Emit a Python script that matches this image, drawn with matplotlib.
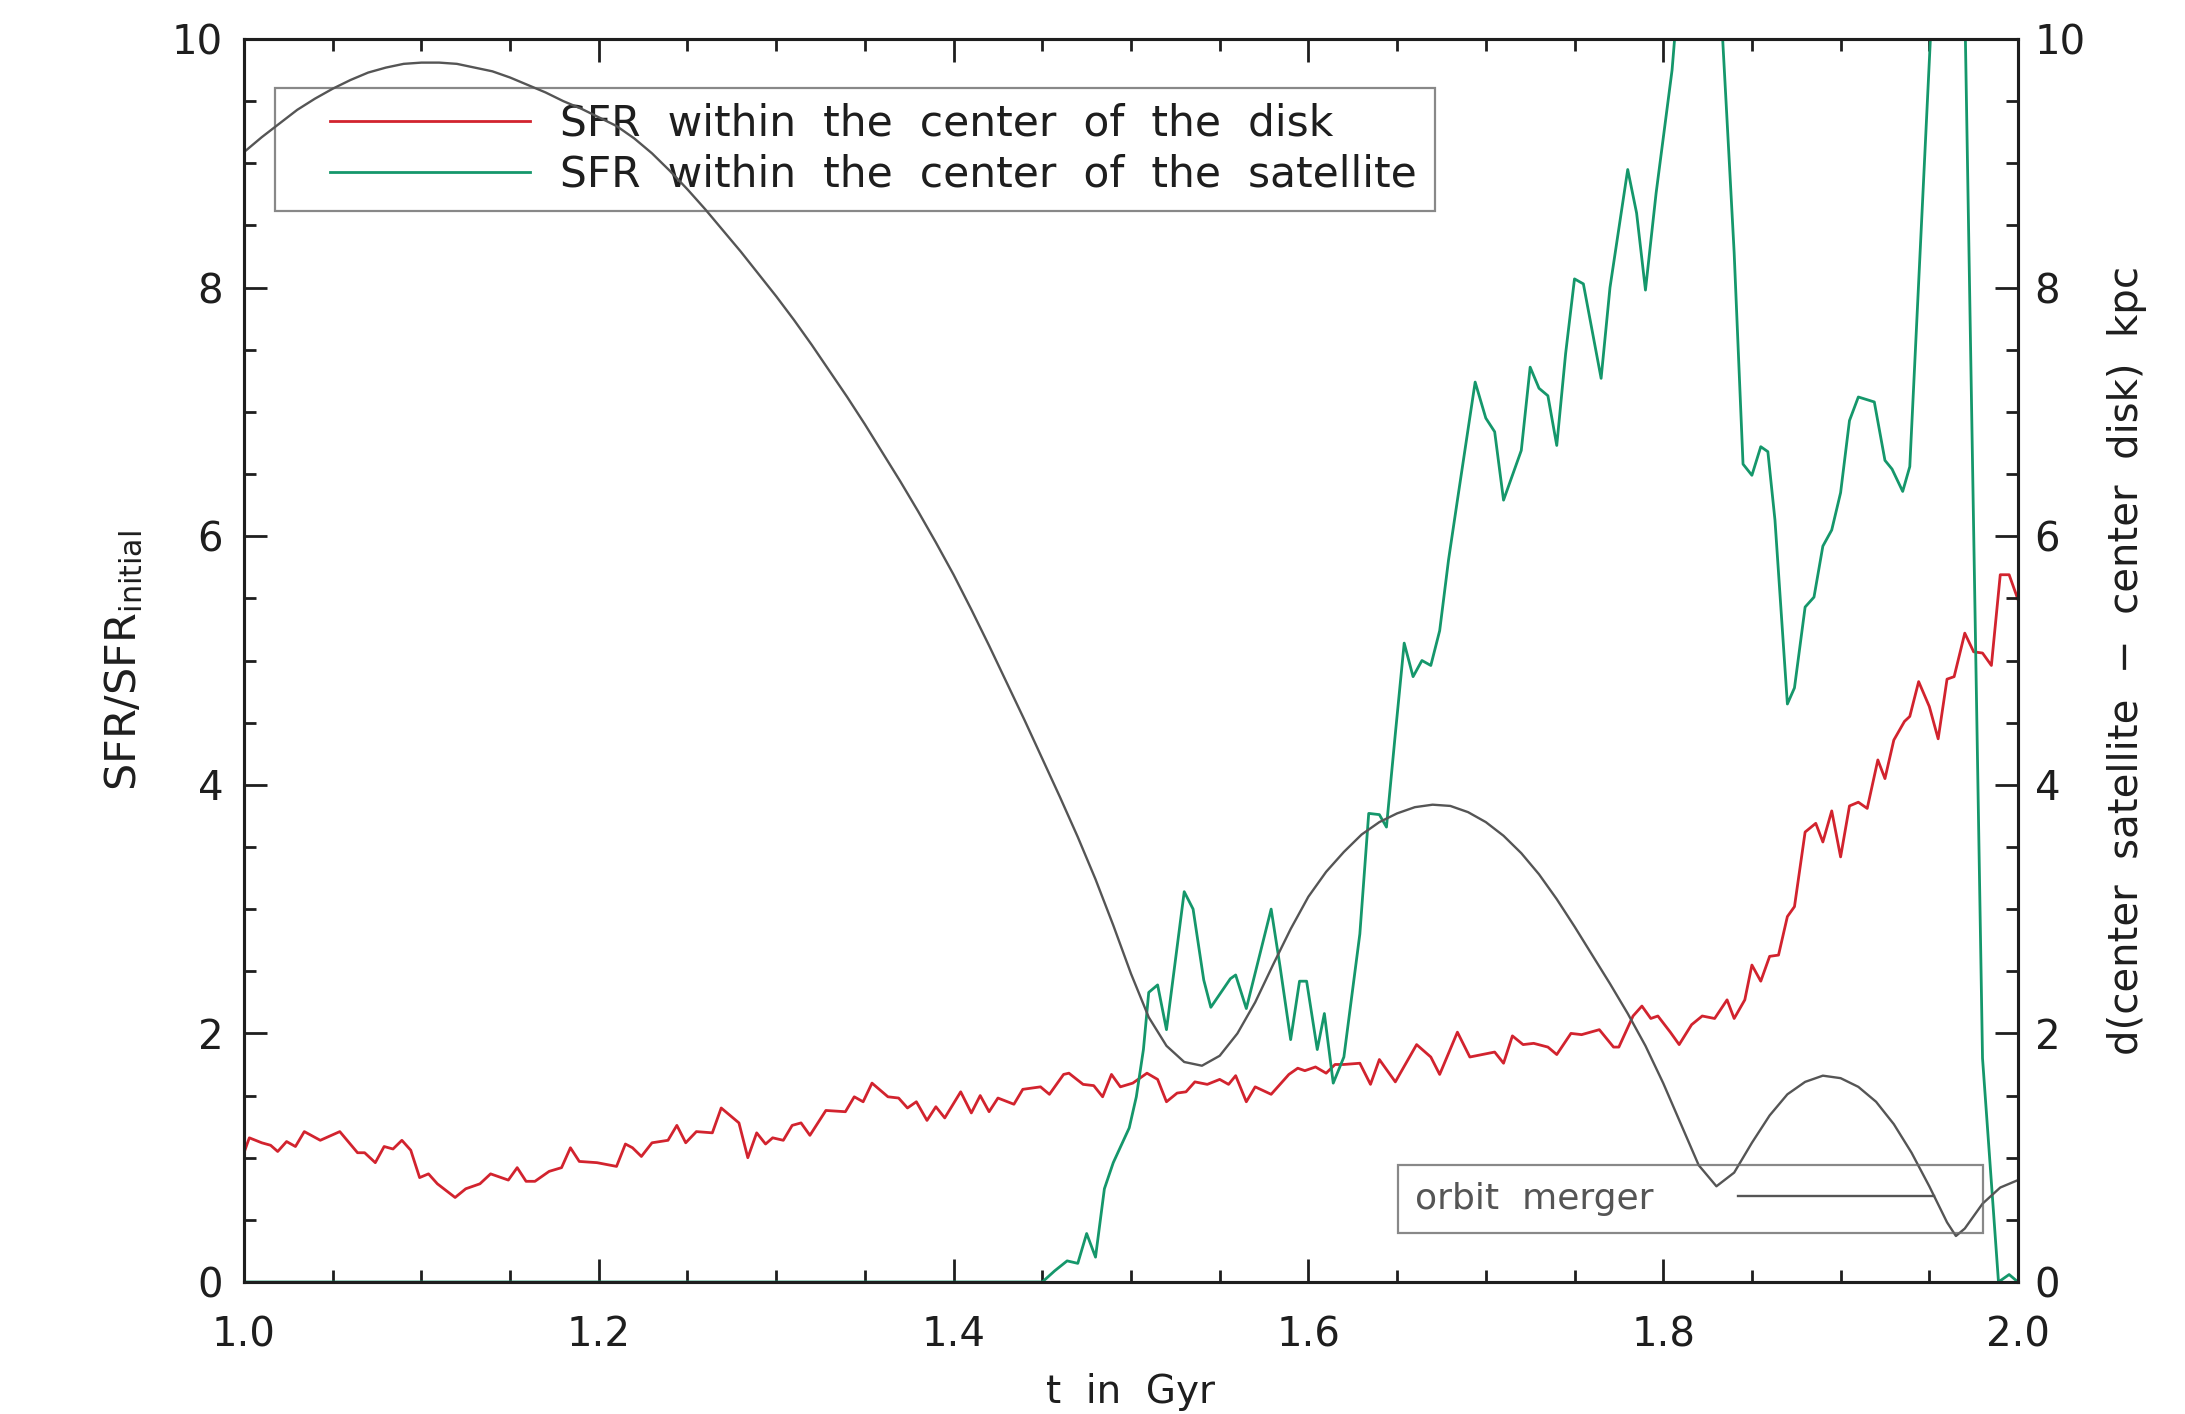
import matplotlib
matplotlib.use("Agg")
import matplotlib.pyplot as plt
from matplotlib.ticker import MultipleLocator, FormatStrFormatter
from matplotlib.legend_handler import HandlerLine2D

# ---------------- data ----------------
t_disk = [1.000, 1.003, 1.010, 1.015, 1.019, 1.024, 1.029, 1.034, 1.043, 1.054,
          1.064, 1.068, 1.074, 1.079, 1.084, 1.089, 1.094, 1.099, 1.104, 1.109,
          1.119, 1.125, 1.133, 1.139, 1.149, 1.154, 1.159, 1.164, 1.172, 1.179,
          1.184, 1.189, 1.199, 1.210, 1.215, 1.219, 1.224, 1.230, 1.239, 1.244,
          1.249, 1.255, 1.264, 1.269, 1.279, 1.284, 1.289, 1.294, 1.298, 1.304,
          1.309, 1.314, 1.319, 1.328, 1.339, 1.344, 1.349, 1.354, 1.363, 1.369,
          1.374, 1.379, 1.385, 1.390, 1.395, 1.404, 1.410, 1.415, 1.420, 1.425,
          1.434, 1.439, 1.449, 1.454, 1.462, 1.465, 1.473, 1.479, 1.484, 1.489,
          1.494, 1.501, 1.509, 1.515, 1.520, 1.526, 1.531, 1.536, 1.543, 1.550,
          1.555, 1.559, 1.565, 1.570, 1.579, 1.589, 1.594, 1.598, 1.604, 1.610,
          1.615, 1.620, 1.629, 1.635, 1.640, 1.649, 1.661, 1.669, 1.674, 1.684,
          1.691, 1.705, 1.710, 1.715, 1.721, 1.727, 1.735, 1.740, 1.748, 1.754,
          1.764, 1.772, 1.775, 1.783, 1.788, 1.793, 1.797, 1.804, 1.809, 1.816,
          1.822, 1.829, 1.836, 1.840, 1.846, 1.850, 1.855, 1.860, 1.865, 1.870,
          1.874, 1.880, 1.886, 1.890, 1.895, 1.900, 1.905, 1.910, 1.915, 1.921,
          1.925, 1.930, 1.936, 1.939, 1.944, 1.950, 1.955, 1.960, 1.964, 1.970,
          1.975, 1.980, 1.985, 1.990, 1.995, 2.000]
sfr_disk = [1.04, 1.16, 1.12, 1.10, 1.05, 1.13, 1.09, 1.21, 1.14, 1.21,
            1.04, 1.04, 0.96, 1.09, 1.07, 1.14, 1.06, 0.84, 0.87, 0.79,
            0.68, 0.75, 0.79, 0.87, 0.82, 0.92, 0.81, 0.81, 0.89, 0.92,
            1.08, 0.97, 0.96, 0.93, 1.11, 1.08, 1.01, 1.12, 1.14, 1.26,
            1.12, 1.21, 1.20, 1.40, 1.28, 1.00, 1.20, 1.11, 1.16, 1.14,
            1.26, 1.28, 1.18, 1.38, 1.37, 1.49, 1.45, 1.60, 1.49, 1.48,
            1.40, 1.45, 1.30, 1.41, 1.32, 1.53, 1.36, 1.50, 1.37, 1.48,
            1.43, 1.55, 1.57, 1.51, 1.67, 1.68, 1.59, 1.58, 1.49, 1.67,
            1.57, 1.60, 1.68, 1.63, 1.45, 1.52, 1.53, 1.61, 1.59, 1.63,
            1.59, 1.66, 1.45, 1.57, 1.51, 1.67, 1.72, 1.70, 1.73, 1.68,
            1.75, 1.75, 1.76, 1.59, 1.79, 1.61, 1.91, 1.81, 1.67, 2.01,
            1.81, 1.85, 1.76, 1.98, 1.91, 1.92, 1.89, 1.83, 2.00, 1.99,
            2.03, 1.89, 1.89, 2.14, 2.22, 2.12, 2.14, 2.01, 1.91, 2.07,
            2.14, 2.12, 2.27, 2.12, 2.27, 2.55, 2.42, 2.62, 2.63, 2.94,
            3.02, 3.62, 3.69, 3.54, 3.79, 3.42, 3.83, 3.86, 3.81, 4.20,
            4.05, 4.36, 4.51, 4.55, 4.83, 4.63, 4.37, 4.85, 4.87, 5.22,
            5.07, 5.06, 4.96, 5.69, 5.69, 5.49]

t_sat = [1.000, 1.450, 1.457, 1.464, 1.470, 1.475, 1.480, 1.485, 1.490, 1.499,
         1.503, 1.507, 1.510, 1.515, 1.520, 1.530, 1.535, 1.541, 1.545, 1.556,
         1.559, 1.565, 1.579, 1.584, 1.590, 1.595, 1.599, 1.605, 1.609, 1.614,
         1.620, 1.629, 1.634, 1.640, 1.644, 1.649, 1.654, 1.659, 1.664, 1.669,
         1.674, 1.679, 1.684, 1.694, 1.700, 1.705, 1.710, 1.720, 1.725, 1.730,
         1.735, 1.740, 1.745, 1.750, 1.755, 1.765, 1.770, 1.780, 1.785, 1.790,
         1.796, 1.805, 1.815, 1.825, 1.832, 1.837, 1.840, 1.845, 1.850, 1.855,
         1.859, 1.863, 1.870, 1.874, 1.880, 1.885, 1.890, 1.895, 1.900, 1.905,
         1.910, 1.919, 1.925, 1.929, 1.935, 1.939, 1.955, 1.965, 1.970, 1.980,
         1.989, 1.995, 2.000]
sfr_sat = [0.00, 0.00, 0.09, 0.17, 0.15, 0.39, 0.20, 0.75, 0.96, 1.24,
           1.49, 1.87, 2.33, 2.39, 2.03, 3.14, 3.00, 2.43, 2.21, 2.44,
           2.47, 2.20, 3.00, 2.54, 1.95, 2.42, 2.42, 1.87, 2.16, 1.60,
           1.81, 2.80, 3.77, 3.76, 3.66, 4.41, 5.14, 4.87, 5.00, 4.96,
           5.24, 5.81, 6.29, 7.24, 6.95, 6.84, 6.29, 6.69, 7.36, 7.19,
           7.13, 6.73, 7.47, 8.07, 8.03, 7.27, 8.00, 8.95, 8.60, 7.98,
           8.76, 9.75, 11.5, 12.0, 10.4, 9.08, 8.28, 6.58, 6.49, 6.72,
           6.68, 6.13, 4.65, 4.78, 5.43, 5.51, 5.92, 6.05, 6.35, 6.93,
           7.12, 7.08, 6.61, 6.54, 6.36, 6.56, 11.3, 11.8, 10.3, 1.80,
           0.00, 0.06, 0.00]

t_orbit = [1.00, 1.01, 1.02, 1.03, 1.04, 1.05, 1.06, 1.07, 1.08, 1.09,
           1.10, 1.11, 1.12, 1.13, 1.14, 1.15, 1.16, 1.17, 1.18, 1.19,
           1.20, 1.21, 1.22, 1.23, 1.24, 1.25, 1.26, 1.27, 1.28, 1.29,
           1.30, 1.31, 1.32, 1.33, 1.34, 1.35, 1.36, 1.37, 1.38, 1.39,
           1.40, 1.41, 1.42, 1.43, 1.44, 1.45, 1.46, 1.47, 1.48, 1.49,
           1.50, 1.51, 1.52, 1.53, 1.54, 1.55, 1.56, 1.57, 1.58, 1.59,
           1.60, 1.61, 1.62, 1.63, 1.64, 1.65, 1.66, 1.67, 1.68, 1.69,
           1.70, 1.71, 1.72, 1.73, 1.74, 1.75, 1.76, 1.77, 1.78, 1.79,
           1.80, 1.81, 1.82, 1.83, 1.84, 1.85, 1.86, 1.87, 1.88, 1.89,
           1.90, 1.91, 1.92, 1.93, 1.94, 1.95, 1.96, 1.965, 1.97, 1.98,
           1.99, 2.00]
d_orbit = [9.09, 9.21, 9.32, 9.43, 9.52, 9.60, 9.67, 9.73, 9.77, 9.80,
           9.81, 9.81, 9.80, 9.77, 9.74, 9.69, 9.63, 9.57, 9.50, 9.44,
           9.37, 9.30, 9.20, 9.08, 8.94, 8.79, 8.63, 8.46, 8.29, 8.11,
           7.93, 7.74, 7.54, 7.33, 7.12, 6.90, 6.67, 6.44, 6.20, 5.95,
           5.69, 5.41, 5.12, 4.82, 4.52, 4.21, 3.90, 3.58, 3.24, 2.87,
           2.48, 2.13, 1.90, 1.77, 1.74, 1.82, 2.00, 2.25, 2.55, 2.84,
           3.10, 3.30, 3.46, 3.60, 3.70, 3.77, 3.82, 3.84, 3.83, 3.78,
           3.70, 3.59, 3.45, 3.28, 3.08, 2.86, 2.63, 2.40, 2.16, 1.90,
           1.60, 1.27, 0.94, 0.77, 0.88, 1.12, 1.34, 1.51, 1.61, 1.66,
           1.64, 1.57, 1.45, 1.27, 1.04, 0.77, 0.48, 0.37, 0.43, 0.63,
           0.76, 0.82]

x_ticks = [1.0, 1.2, 1.4, 1.6, 1.8, 2.0]
y_ticks = [0, 2, 4, 6, 8, 10]

label_disk = "SFR  within  the  center  of  the  disk"
label_sat = "SFR  within  the  center  of  the  satellite"
label_orbit = "orbit  merger"

# ---------------- style ----------------
RED = "#d2232e"
GREEN = "#15976b"
GRAY = "#555555"
INK = "#1e1e1e"

plt.rcParams['font.family'] = ['DejaVu Sans']
plt.rcParams['mathtext.fontset'] = 'dejavusans'

fig = plt.figure(figsize=(21.85, 14.14), dpi=100)
ax = fig.add_axes([0.11167, 0.09335, 0.81190, 0.87907])
ax2 = ax.twinx()

l_disk, = ax.plot(t_disk, sfr_disk, color=RED, lw=2.0, label=label_disk)
l_sat, = ax.plot(t_sat, sfr_sat, color=GREEN, lw=2.0, label=label_sat)
l_orb, = ax2.plot(t_orbit, d_orbit, color=GRAY, lw=1.7, label=label_orbit)

ax.set_xlim(1.0, 2.0)
ax.set_ylim(0, 10)
ax2.set_ylim(0, 10)

ax.set_xticks(x_ticks)
ax.set_yticks(y_ticks)
ax2.set_yticks(y_ticks)
ax.xaxis.set_minor_locator(MultipleLocator(0.05))
ax.yaxis.set_minor_locator(MultipleLocator(0.5))
ax2.yaxis.set_minor_locator(MultipleLocator(0.5))
ax.xaxis.set_major_formatter(FormatStrFormatter('%.1f'))
ax.yaxis.set_major_formatter(FormatStrFormatter('%d'))
ax2.yaxis.set_major_formatter(FormatStrFormatter('%d'))

for a in (ax, ax2):
    for s in a.spines.values():
        s.set_linewidth(2.2)
        s.set_color(INK)

ax.tick_params(axis='x', which='both', direction='in', top=True, bottom=True,
               width=2, color=INK, labelsize=29, labelcolor=INK, pad=24)
ax.tick_params(axis='y', which='both', direction='in', left=True, right=False,
               width=2, color=INK, labelsize=29, labelcolor=INK, pad=15)
ax2.tick_params(axis='y', which='both', direction='in', left=False, right=True,
                width=2, color=INK, labelsize=29, labelcolor=INK, pad=12)
for a in (ax, ax2):
    a.tick_params(which='major', length=16.5)
    a.tick_params(which='minor', length=8.5)

ax.set_xlabel("t  in  Gyr", fontsize=28, color=INK)
ax.xaxis.set_label_coords(0.5, -0.073)
ax.set_ylabel(r"SFR/SFR$_{\mathregular{initial}}$", fontsize=31, color=INK)
ax.yaxis.set_label_coords(-0.056, 0.5)
ax2.set_ylabel("d(center  satellite  \u2212  center  disk)  kpc", fontsize=29, color=INK)
ax2.yaxis.set_label_coords(1.050, 0.5)

# main legend
leg = ax.legend(handles=[l_disk, l_sat], loc='upper left',
                bbox_to_anchor=(0.0175, 0.861, 0.6539, 0.0996), mode='expand',
                borderaxespad=0, fontsize=30.5, frameon=True, fancybox=False,
                borderpad=0.35, labelspacing=0.21, handlelength=6.63,
                handletextpad=-0.25,
                handler_map={l_disk: HandlerLine2D(numpoints=2, marker_pad=0.95),
                             l_sat: HandlerLine2D(numpoints=2, marker_pad=0.95)})
leg.get_frame().set_facecolor('none')
leg.get_frame().set_edgecolor('#6a6a6a')
leg.get_frame().set_linewidth(1.6)
for txt in leg.get_texts():
    txt.set_color(INK)

# orbit legend
leg2 = ax2.legend(handles=[l_orb], loc='lower left',
                  bbox_to_anchor=(0.6505, 0.0394, 0.3295, 0.0579), mode='expand',
                  borderaxespad=0, fontsize=26, frameon=True, fancybox=False,
                  borderpad=0.47, handlelength=5.43, handletextpad=2.35,
                  markerfirst=False)
leg2.get_frame().set_facecolor('none')
leg2.get_frame().set_edgecolor('#6a6a6a')
leg2.get_frame().set_linewidth(1.6)
for txt in leg2.get_texts():
    txt.set_color('#555555')

fig.savefig("out.png", dpi=100)
